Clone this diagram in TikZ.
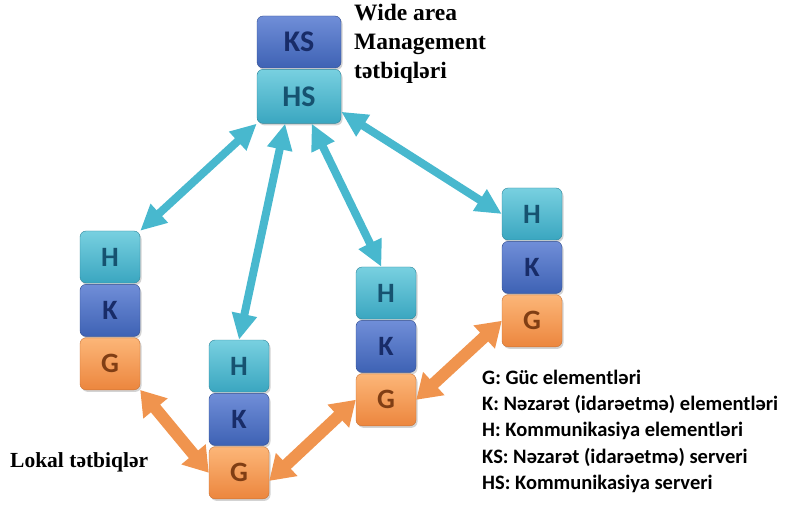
\documentclass[tikz,border=0pt]{standalone}
\usepackage{fontspec}
\setmainfont{Liberation Serif}
\newfontfamily\legendfont{Carlito}
\usetikzlibrary{arrows.meta,positioning,shadows}
\definecolor{hcyanT}{RGB}{120,208,224}
\definecolor{hcyanB}{RGB}{58,166,192}
\definecolor{kblueT}{RGB}{112,142,216}
\definecolor{kblueB}{RGB}{62,98,180}
\definecolor{gorangeT}{RGB}{252,182,120}
\definecolor{gorangeB}{RGB}{236,134,62}
\definecolor{hink}{RGB}{22,82,112}
\definecolor{kink}{RGB}{24,44,104}
\definecolor{gink}{RGB}{128,62,20}
\definecolor{linkcyan}{RGB}{72,184,206}
\definecolor{linkorange}{RGB}{240,148,78}
\tikzset{
  cell/.style={
    rectangle, rounded corners=6pt, minimum width=60pt, minimum height=52pt,
    inner sep=0pt, font=\legendfont\bfseries\fontsize{28}{28}\selectfont,
    drop shadow={shadow xshift=1.5pt, shadow yshift=-2pt, opacity=0.35}
  },
  cellH/.style={
    cell, top color=hcyanT, bottom color=hcyanB, draw=hcyanB!80!black,
    text=hink
  },
  cellK/.style={
    cell, top color=kblueT, bottom color=kblueB, draw=kblueB!80!black,
    text=kink
  },
  cellG/.style={
    cell, top color=gorangeT, bottom color=gorangeB, draw=gorangeB!85!black,
    text=gink
  },
  arrowC/.style={
    {Triangle[length=26pt,width=24pt]}-{Triangle[length=26pt,width=24pt]},
    line width=8pt, color=linkcyan
  },
  arrowO/.style={
    {Triangle[length=24pt,width=30pt]}-{Triangle[length=24pt,width=30pt]},
    line width=12pt, color=linkorange
  },
  label/.style={font=\bfseries\fontsize{23.5}{29}\selectfont, align=left,
    inner sep=0pt}
}

\begin{document}
\begin{tikzpicture}[x=1pt, y=-1pt]
\useasboundingbox (0,0) rectangle (790,505);

\node[cellK, minimum width=84pt, font=\legendfont\bfseries\fontsize{30}{30}\selectfont]
  (ks) at (299,42) {KS};
\node[cellH, minimum width=84pt, minimum height=54pt, below=1pt of ks,
      font=\legendfont\bfseries\fontsize{30}{30}\selectfont]
  (hs) {HS};

\node[label, anchor=north west] (wide) at (354,4)
  {Wide area\\Management\\tətbiqləri};

\node[cellH] (h1) at (110,257) {H};
\node[cellK, below=1pt of h1] (k1) {K};
\node[cellG, below=1pt of k1] (g1) {G};

\node[cellH] (h2) at (239,366) {H};
\node[cellK, below=1pt of h2] (k2) {K};
\node[cellG, below=1pt of k2] (g2) {G};

\node[cellH] (h3) at (386,293) {H};
\node[cellK, below=1pt of h3] (k3) {K};
\node[cellG, below=1pt of k3] (g3) {G};

\node[cellH] (h4) at (532,214) {H};
\node[cellK, below=1pt of h4] (k4) {K};
\node[cellG, below=1pt of k4] (g4) {G};

\node[label, anchor=west, font=\bfseries\fontsize{21.5}{26}\selectfont]
  (lokal) at (10,462) {Lokal tətbiqlər};

\node[anchor=north west, align=left, inner sep=0pt,
      font=\legendfont\bfseries\fontsize{20.5}{26.2}\selectfont]
  (legend) at (482,370)
  {G: Güc elementləri\\
   K: Nəzarət (idarəetmə) elementləri\\
   H: Kommunikasiya elementləri\\
   KS: Nəzarət (idarəetmə) serveri\\
   HS: Kommunikasiya serveri};

\draw[arrowC] (hs.south west) -- (h1.north east);
\draw[arrowC] (hs.-117) -- (h2.north);
\draw[arrowC] (hs.-65)  -- (h3.100);
\draw[arrowC] (hs.-20)  -- (h4.west);
\draw[arrowO] (g1.south east) -- (g2.west);
\draw[arrowO] (g2.-15) -- (g3.west);
\draw[arrowO] (g3.east) -- (g4.west);
\end{tikzpicture}
\end{document}
